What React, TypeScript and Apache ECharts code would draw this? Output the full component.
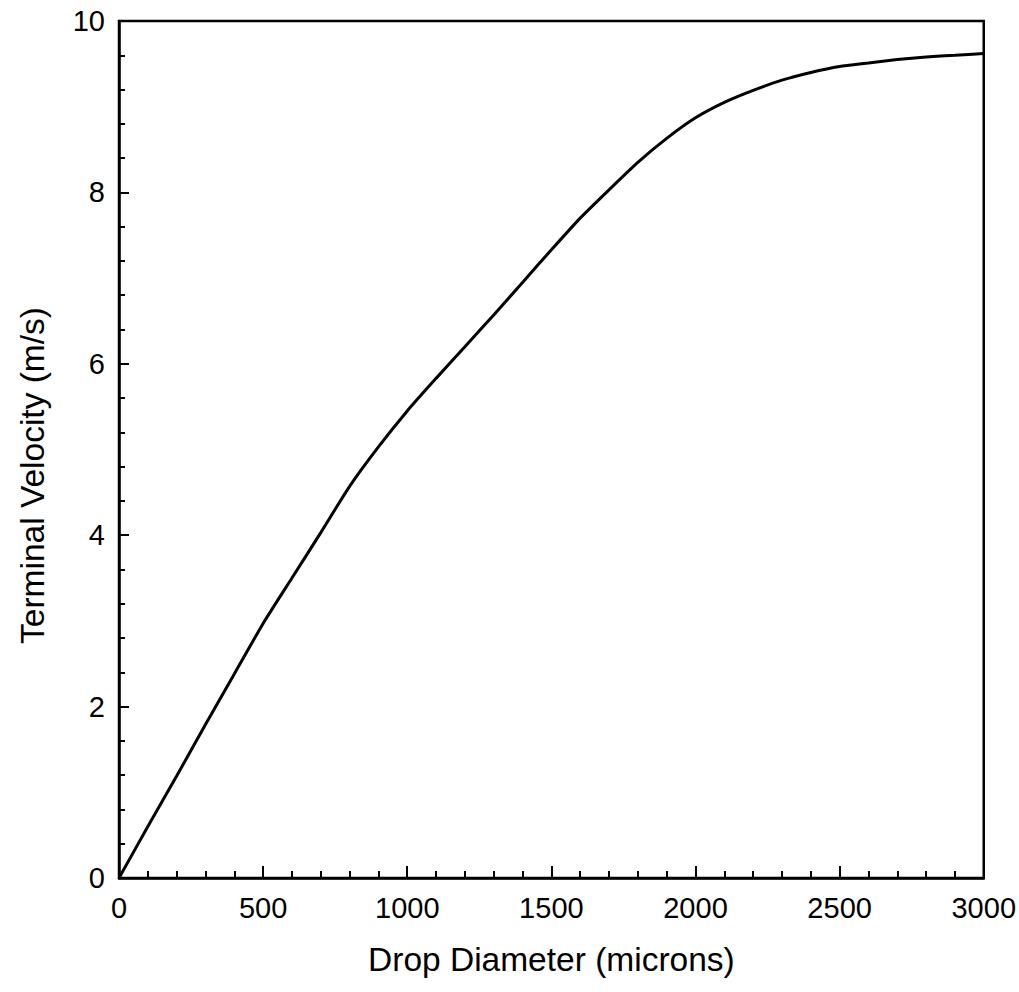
import React, { useEffect, useRef } from "react";
import * as echarts from "echarts";

const diameters = [0, 100, 200, 300, 400, 500, 600, 700, 800, 900, 1000, 1100, 1200, 1300, 1400, 1500, 1600, 1700, 1800, 1900, 2000, 2100, 2200, 2300, 2400, 2500, 2600, 2700, 2800, 2900, 3000];
const velocities = [0, 0.6, 1.19, 1.79, 2.38, 2.97, 3.5, 4.03, 4.57, 5.03, 5.45, 5.83, 6.2, 6.57, 6.95, 7.33, 7.7, 8.03, 8.35, 8.63, 8.87, 9.05, 9.19, 9.31, 9.4, 9.47, 9.51, 9.55, 9.58, 9.6, 9.62];

const xTitle = "Drop Diameter (microns)";
const yTitle = "Terminal Velocity (m/s)";

export default function App() {
  const ref = useRef<HTMLDivElement>(null);
  useEffect(() => {
    document.body.style.margin = "0";
    const chart = echarts.init(ref.current!, undefined, { renderer: "svg" });
    const font = "'Liberation Sans', Arial, Helvetica, sans-serif";
    chart.setOption({
      animation: false,
      backgroundColor: "#ffffff",
      grid: {
        left: 119,
        right: 35,
        top: 21,
        bottom: 114,
        show: true,
        borderColor: "#000",
        borderWidth: 2.5,
        backgroundColor: "transparent",
      },
      xAxis: {
        type: "value",
        min: 0,
        max: 3000,
        interval: 500,
        name: xTitle,
        nameLocation: "middle",
        nameGap: 64,
        nameTextStyle: { fontSize: 33.5, color: "#000", fontFamily: font },
        axisLine: { show: true, lineStyle: { color: "#000", width: 2.5 } },
        axisTick: { show: true, inside: true, length: 12, lineStyle: { color: "#000", width: 2 } },
        minorTick: { show: true, splitNumber: 5, length: 7, lineStyle: { color: "#000", width: 2 } },
        axisLabel: { fontSize: 29, color: "#000", fontFamily: font, margin: 15, formatter: (v: number) => String(v) },
        splitLine: { show: false },
      },
      yAxis: {
        type: "value",
        min: 0,
        max: 10,
        interval: 2,
        name: yTitle,
        nameLocation: "middle",
        nameGap: 70,
        nameTextStyle: { fontSize: 33.5, color: "#000", fontFamily: font, padding: [0, 52, 0, 0] },
        axisLine: { show: true, lineStyle: { color: "#000", width: 2.5 } },
        axisTick: { show: true, inside: true, length: 10, lineStyle: { color: "#000", width: 2 } },
        minorTick: { show: true, splitNumber: 5, length: 6, lineStyle: { color: "#000", width: 2 } },
        axisLabel: { fontSize: 29, color: "#000", fontFamily: font, margin: 14, formatter: (v: number) => String(v) },
        splitLine: { show: false },
      },
      series: [
        {
          type: "line",
          data: diameters.map((d, i) => [d, velocities[i]]),
          showSymbol: false,
          smooth: 0.2,
          lineStyle: { color: "#000", width: 3 },
        },
      ],
    });
    return () => chart.dispose();
  }, []);
  return <div ref={ref} style={{ width: 1019, height: 992 }} />;
}
